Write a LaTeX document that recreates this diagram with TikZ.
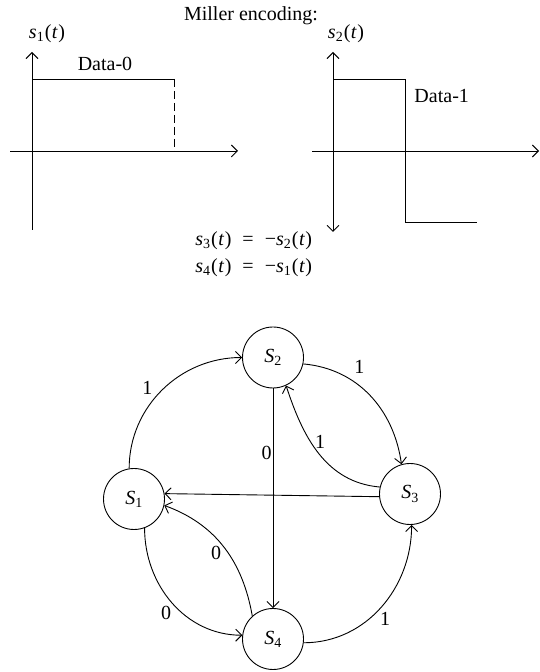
\documentclass[tikz,border=0pt]{standalone}
\usepackage{fontspec}
\setmainfont{Liberation Serif}
\usetikzlibrary{arrows.meta}
\newcommand\sig[1]{\textit{s}\textsubscript{#1}\kern0.5pt(\kern0.5pt\textit{t}\kern0.5pt)}
\newcommand\stname[1]{\textit{S}\textsubscript{#1}}
\newcommand\eqsp{\hspace{0.55em}}
\begin{document}
\begin{tikzpicture}[x=1pt,y=1pt, line width=0.9pt,
  >={Straight Barb[length=6pt,width=12pt]},
  every node/.style={font=\fontsize{20}{24}\selectfont},
  state/.style={circle,draw,minimum size=61pt,inner sep=0pt},
  lbl/.style={inner sep=0pt}]
\useasboundingbox (0,0) rectangle (540,672);
% title
\node[anchor=base] (title) at (251,651.3) {Miller encoding:};
% plot 1
\draw[->] (10,521) -- (238,521);
\draw[->] (32,442) -- (32,620);
\draw (32,593) -- (174,593);
\draw[dash pattern=on 8pt off 4pt] (174,593) -- (174,521);
\node (s1lab) at (47,638.5) {\sig{1}};
\node[anchor=base] (d0) at (105,601.3) {Data-0};
% plot 2
\draw[->] (312,521) -- (539,521);
\draw[<->] (333,440) -- (333,620);
\draw (333,593) -- (405,593) -- (405,450) -- (477,450);
\node (s2lab) at (346,638) {\sig{2}};
\node[anchor=base] (d1) at (441.7,569.3) {Data-1};
% equations
\node[anchor=west,inner sep=0pt] (eq1) at (195,431) {\sig{3}\eqsp=\eqsp−\sig{2}};
\node[anchor=west,inner sep=0pt] (eq2) at (195,404.5) {\sig{4}\eqsp=\eqsp−\sig{1}};
% state graph
\node[state] (S1) at (134,173) {\stname{1}};
\node[state] (S2) at (273,314.5) {\stname{2}};
\node[state] (S3) at (410,178) {\stname{3}};
\node[state] (S4) at (273,33) {\stname{4}};
\draw[->] (S1.99) to[out=90,in=180] (S2.180);
\draw[->] (S2.-12) to[out=-5,in=98] (S3.106);
\draw[->] (S3.167) to[out=175,in=-72] (S2.-65);
\draw[->] (S3.185.5) -- (S1.10.6);
\draw[->] (S2) -- (S4);
\draw[->] (S4.132) to[out=100,in=-20] (S1.-12);
\draw[->] (S1.-70) to[out=-90,in=180] (S4.173);
\draw[->] (S4.-7) to[out=0,in=-90] (S3.-87);
\node[lbl] (a) at (147.3,283.7) {1};
\node[lbl] (b) at (359.3,305.3) {1};
\node[lbl] (c) at (320,230.3) {1};
\node[lbl] (d) at (266.7,219.3) {0};
\node[lbl] (e) at (216,118.7) {0};
\node[lbl] (f) at (166,58.7) {0};
\node[lbl] (g) at (385,52.7) {1};
\end{tikzpicture}
\end{document}
